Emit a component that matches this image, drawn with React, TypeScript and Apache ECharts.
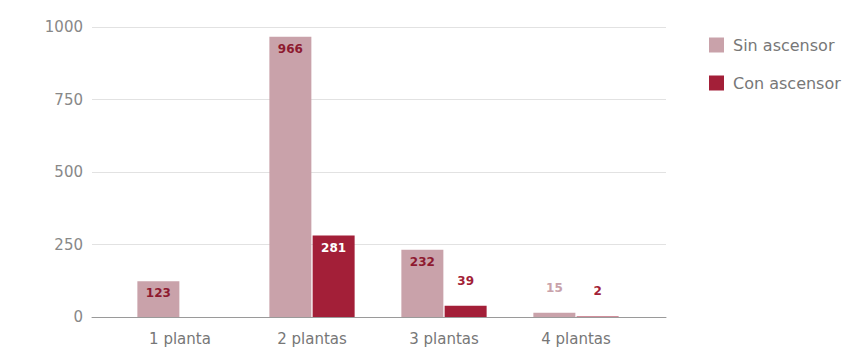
import React, { useEffect, useRef } from "react";
import * as echarts from "echarts";

const categories = ["1 planta", "2 plantas", "3 plantas", "4 plantas"];
const sinAscensor = [123, 966, 232, 15];
const conAscensor = [0, 281, 39, 2];
const yTicks = [0, 250, 500, 750, 1000];
const seriesNames = ["Sin ascensor", "Con ascensor"];

const SIN_COLOR = "#c9a2aa";
const CON_COLOR = "#a31f38";
const FONT = "'DejaVu Sans', 'Noto Sans', sans-serif";

function buildData(values: number[], color: string, insideColor: string) {
  return values.map((v) => {
    if (v === 0) return { value: v, label: { show: false } };
    const inside = v > 100;
    return {
      value: v,
      label: {
        show: true,
        position: inside ? "insideTop" : "top",
        distance: inside ? 6 : 19,
        color: inside ? insideColor : color,
        fontWeight: "bold",
        fontSize: 12,
        fontFamily: FONT,
      },
    };
  });
}

export default function App() {
  const ref = useRef<HTMLDivElement>(null);
  useEffect(() => {
    if (!ref.current) return;
    const chart = echarts.init(ref.current, undefined, { renderer: "svg" });
    chart.setOption({
      animation: false,
      backgroundColor: "#ffffff",
      textStyle: { fontFamily: FONT },
      legend: {
        orient: "vertical",
        left: 704,
        top: 32,
        itemWidth: 15,
        itemHeight: 15,
        itemGap: 22,
        icon: "rect",
        data: seriesNames,
        textStyle: { color: "#777", fontSize: 16, fontFamily: FONT, padding: [0, 0, 0, 4] },
      },
      grid: [
        { left: 92, right: 180, top: 27, bottom: 32 },
        { left: 114, right: 204, top: 27, bottom: 32 },
      ],
      xAxis: [
        {
          gridIndex: 0,
          type: "value",
          min: 0,
          max: 1,
          axisLine: { show: true, lineStyle: { color: "#9a9a9a", width: 1 } },
          axisTick: { show: false },
          axisLabel: { show: false },
          splitLine: { show: false },
        },
        {
          gridIndex: 1,
          type: "category",
          data: categories,
          axisLine: { show: false },
          axisTick: { show: false },
          axisLabel: { color: "#777", fontSize: 15, margin: 14, fontFamily: FONT },
        },
      ],
      yAxis: [
        {
          gridIndex: 0,
          type: "value",
          min: yTicks[0],
          max: yTicks[yTicks.length - 1],
          interval: 250,
          axisLine: { show: false },
          axisTick: { show: false },
          axisLabel: {
            color: "#888",
            fontSize: 15,
            margin: 9,
            fontFamily: FONT,
            formatter: (v: number) => String(v),
          },
          splitLine: { lineStyle: { color: "#e2e2e2", width: 1 } },
        },
        {
          gridIndex: 1,
          type: "value",
          min: yTicks[0],
          max: yTicks[yTicks.length - 1],
          interval: 250,
          show: false,
          splitLine: { show: false },
        },
      ],
      series: [
        {
          name: seriesNames[0],
          type: "bar",
          xAxisIndex: 1,
          yAxisIndex: 1,
          barWidth: 42,
          barGap: "3%",
          itemStyle: { color: SIN_COLOR },
          data: buildData(sinAscensor, SIN_COLOR, "#8e1a30"),
        },
        {
          name: seriesNames[1],
          type: "bar",
          xAxisIndex: 1,
          yAxisIndex: 1,
          barWidth: 42,
          barGap: "3%",
          itemStyle: { color: CON_COLOR },
          data: buildData(conAscensor, CON_COLOR, "#ffffff"),
        },
      ],
    });
    return () => chart.dispose();
  }, []);
  return <div ref={ref} style={{ width: 846, height: 349, position: "absolute", left: 0, top: 0 }} />;
}
